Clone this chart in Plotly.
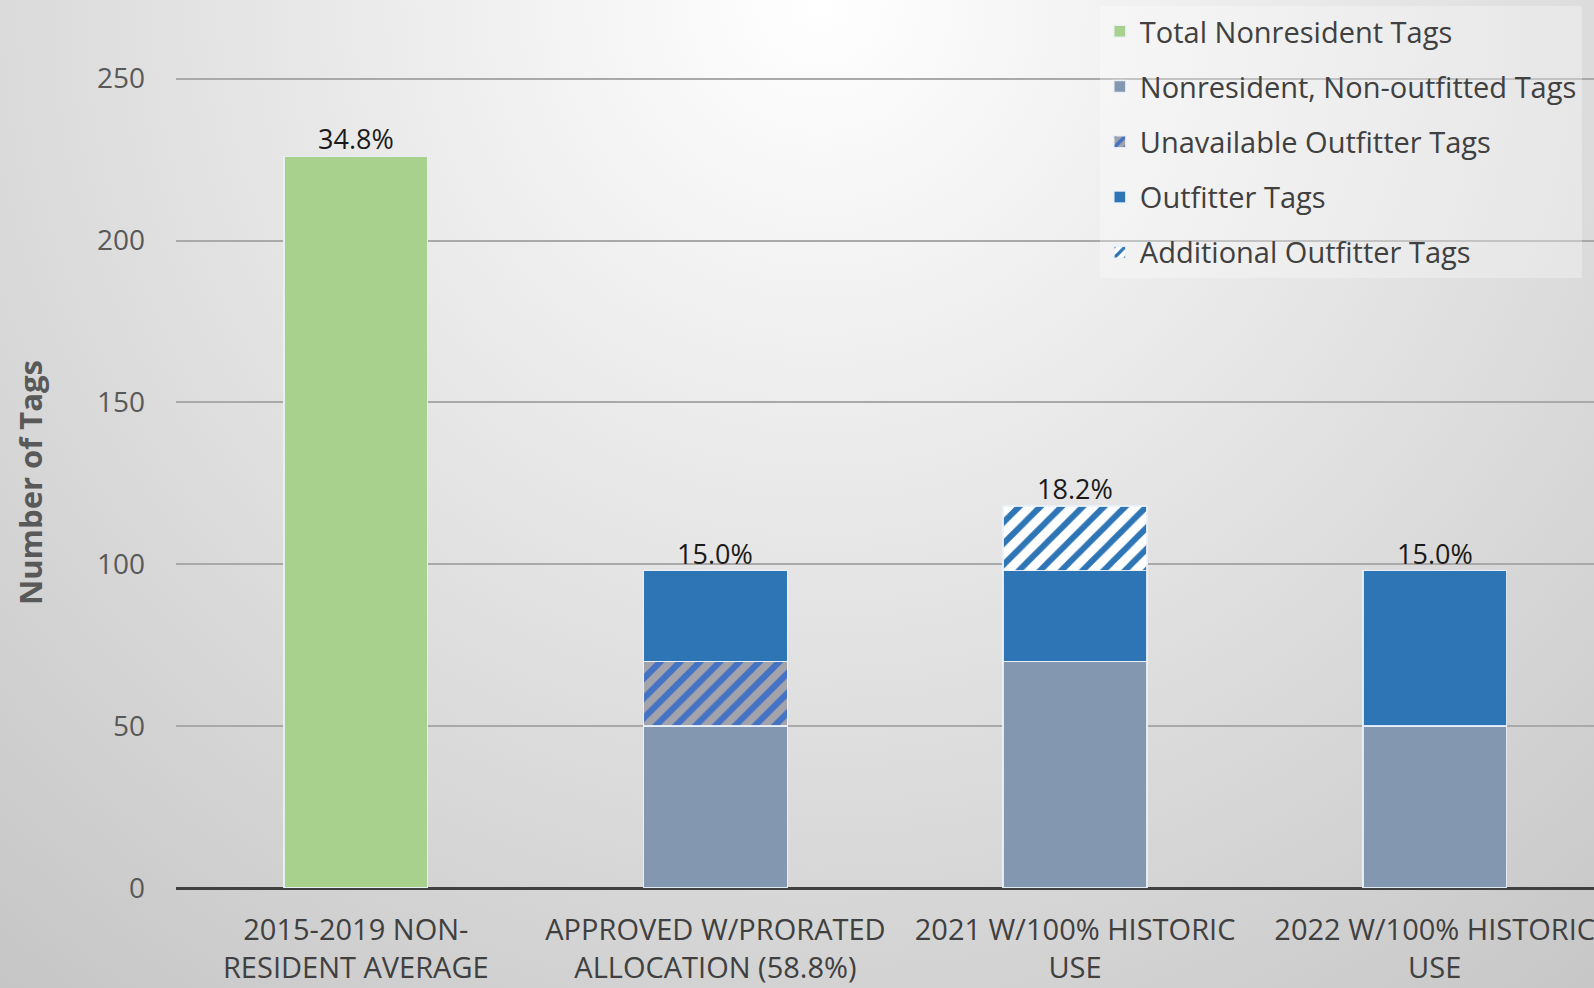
"""
    plot.py
    Nonresident tag allocation scenarios (stacked bars).
"""
import base64
import plotly.graph_objs as go

# Categories and series values (number of tags)
categories = ["2015-2019 NON-<br>RESIDENT AVERAGE", "APPROVED W/PRORATED<br>ALLOCATION (58.8%)",
              "2021 W/100% HISTORIC<br>USE", "2022 W/100% HISTORIC<br>USE"]
total_nonresident = [226, None, None, None]
non_outfitted = [None, 50, 70, 50]
unavailable_outfitter = [None, 20, None, None]
outfitter = [None, 28, 28, 48]
additional_outfitter = [None, None, 20, None]
pct_labels = ["34.8%", "15.0%", "18.2%", "15.0%"]
y_ticks = [0, 50, 100, 150, 200, 250]

W, H = 1594, 988
L, R, T, B = 176, 0, 77, 100

font_family = "Open Sans, Noto Sans, sans-serif"
edge = dict(color='rgba(235,242,250,0.9)', width=1.5)

traces = [
    go.Bar(x=categories, y=total_nonresident, name='Total Nonresident Tags',
           marker=dict(color='#A9D18E', line=edge), legendgroup='a'),
    go.Bar(x=categories, y=non_outfitted, name='Nonresident, Non-outfitted Tags',
           marker=dict(color='#8497B0', line=edge), legendgroup='b'),
    go.Bar(x=categories, y=unavailable_outfitter, name='Unavailable Outfitter Tags',
           marker=dict(color='#4472C4', line=edge,
                       pattern=dict(shape='/', bgcolor='#A3A3AB', fgcolor='#4472C4',
                                    size=14, solidity=0.45)),
           legendgroup='c'),
    go.Bar(x=categories, y=outfitter, name='Outfitter Tags',
           marker=dict(color='#2E75B6', line=edge), legendgroup='d'),
    go.Bar(x=categories, y=additional_outfitter, name='Additional Outfitter Tags',
           marker=dict(color='#2E75B6', line=edge,
                       pattern=dict(shape='/', bgcolor='#FFFFFF', fgcolor='#2E75B6',
                                    size=15, solidity=0.4)),
           legendgroup='e'),
]

# Percent labels sit on top of each stack
stacks = [total_nonresident, non_outfitted, unavailable_outfitter, outfitter, additional_outfitter]
totals = [sum(s[i] or 0 for s in stacks) for i in range(len(categories))]
annotations = []
for cat, tot, lab in zip(categories, totals, pct_labels):
    annotations.append(dict(
        x=cat, y=tot, text=lab, xref='x', yref='y',
        showarrow=False, yanchor='bottom', yshift=-3,
        font=dict(family=font_family, size=27, color='#1a1a1a'),
    ))

# Radial grey background, done as an inline svg
svg = ('<svg xmlns="http://www.w3.org/2000/svg" width="%d" height="%d">'
       '<defs><radialGradient id="g" gradientUnits="userSpaceOnUse" cx="820" cy="0" r="1450">'
       '<stop offset="0" stop-color="#ffffff"/><stop offset="1" stop-color="#bebebe"/>'
       '</radialGradient></defs><rect width="%d" height="%d" fill="url(#g)"/></svg>') % (W, H, W, H)
bg_src = 'data:image/svg+xml;base64,' + base64.b64encode(svg.encode()).decode()
pw, ph = W - L - R, H - T - B

layout = go.Layout(
    template='none',
    width=W, height=H,
    margin=dict(l=L, r=R, t=T, b=B, autoexpand=False),
    paper_bgcolor='#d8d8d8',
    plot_bgcolor='rgba(0,0,0,0)',
    barmode='stack',
    bargap=0.6,
    font=dict(family=font_family, color='#404040'),
    xaxis=dict(
        range=[-0.5, 3.443], showgrid=False, zeroline=False,
        showline=False, ticks='', automargin=False,
        tickfont=dict(size=29, color='#404040'), ticklabelstandoff=22,
    ),
    yaxis=dict(
        range=[0, 250.5], tickvals=y_ticks, showgrid=True,
        gridcolor='#a9a9a9', gridwidth=1.5,
        zeroline=True, zerolinecolor='#404040', zerolinewidth=3,
        ticks='', automargin=False, ticklabelstandoff=30,
        tickfont=dict(size=28, color='#595959'),
        title=dict(text='<b>Number of Tags</b>', standoff=45,
                   font=dict(size=31, color='#595959')),
    ),
    legend=dict(
        x=0.6515, y=1 + (T - 6) / ph, xanchor='left', yanchor='top',
        bgcolor='rgba(255,255,255,0.3)', borderwidth=0,
        font=dict(size=29, color='#404040'),
        traceorder='grouped', tracegroupgap=14.5,
    ),
    annotations=annotations,
    images=[dict(
        source=bg_src, xref='paper', yref='paper',
        x=-L / pw, y=1 + T / ph, sizex=W / pw, sizey=H / ph,
        xanchor='left', yanchor='top', sizing='stretch', layer='below',
    )],
)

fig = go.Figure(data=traces, layout=layout)
fig.write_html("out.html", config={'displayModeBar': False},
               post_script="document.body.style.margin='0';")
